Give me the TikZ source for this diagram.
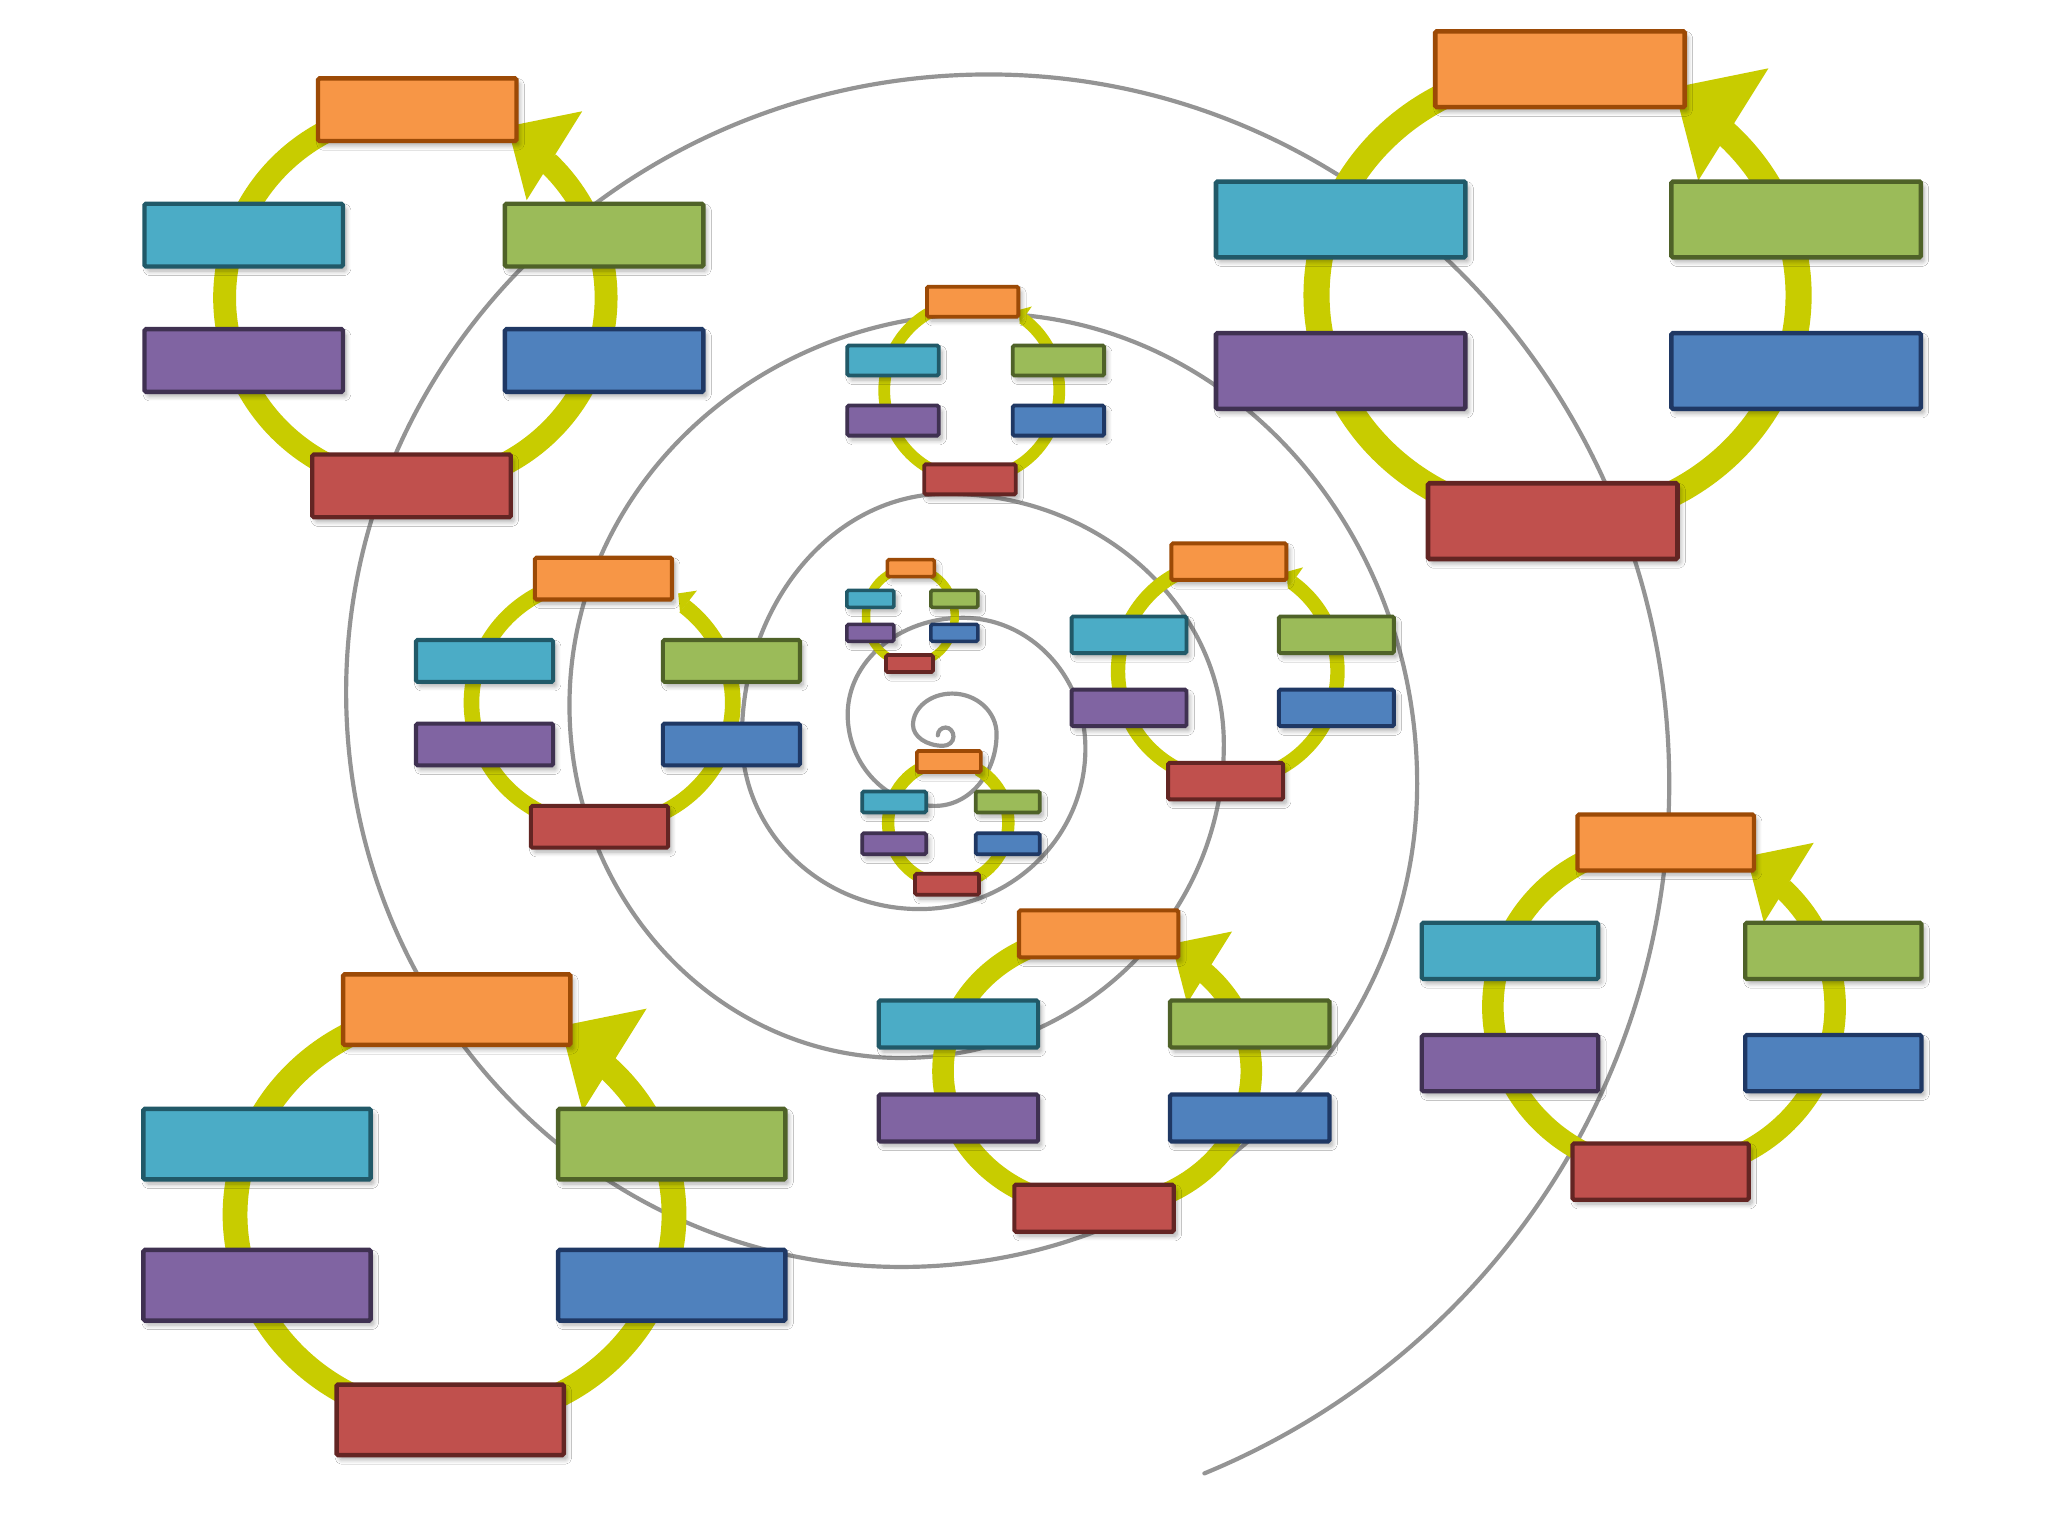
\documentclass[tikz,border=0pt]{standalone}
\usetikzlibrary{shadows.blur}
\definecolor{ringc}{RGB}{200,204,0}
\definecolor{spir}{RGB}{148,148,148}
\definecolor{orF}{HTML}{F79646}\definecolor{orD}{HTML}{9C4A06}
\definecolor{cyF}{HTML}{4BACC6}\definecolor{cyD}{HTML}{215968}
\definecolor{grF}{HTML}{9BBB59}\definecolor{grD}{HTML}{4F6228}
\definecolor{puF}{HTML}{8064A2}\definecolor{puD}{HTML}{3F3151}
\definecolor{blF}{HTML}{4F81BD}\definecolor{blD}{HTML}{1F3864}
\definecolor{reF}{HTML}{C0504D}\definecolor{reD}{HTML}{632523}
\tikzset{
  box/.style={rectangle, rounded corners=1.2pt, inner sep=0pt, line width=#1,
     blur shadow={shadow xshift=2.5pt, shadow yshift=-3.5pt, shadow blur radius=3.5pt, shadow blur steps=6, shadow opacity=32}},
  box/.default=3pt,
  ringline/.style={draw=ringc, line width=#1},
  spiralline/.style={draw=spir, line width=3.2pt, line cap=round},
}
% name, cx, cy, rx, ry, W, H, ring thickness ; arrow: \ab \ad \ar \aw \al
\newcommand{\cyc}[8]{%
 \begin{scope}[shift={(#2,#3)}]
  \draw[ringline=#8pt] (250:#4 and #5) arc[start angle=250, end angle=\ab, x radius=#4, y radius=#5];
  \ifdim\aw pt>0pt
   \pgfmathsetmacro\bx{\ar*#4*cos(\ab)}
   \pgfmathsetmacro\by{\ar*#5*sin(\ab)}
   \pgfmathsetmacro\ux{sin(\ad)}
   \pgfmathsetmacro\uy{-cos(\ad)}
   \pgfmathsetmacro\Lh{\al*#4}
   \pgfmathsetmacro\Wh{\aw*#4}
   \fill[ringc] ({\bx+\Lh*\ux},{\by+\Lh*\uy}) -- ({\bx-\Wh*\uy},{\by+\Wh*\ux}) -- ({\bx+\Wh*\uy},{\by-\Wh*\ux}) -- cycle;
  \fi
  \pgfmathsetmacro\bw{2.6+#4/200}
  \node[box=\bw pt, fill=orF, draw=orD, minimum width=#6pt, minimum height=#7pt] (#1o) at ({0.01*#4},{-#5}) {};
  \node[box=\bw pt, fill=cyF, draw=cyD, minimum width=#6pt, minimum height=#7pt] (#1c) at ({-0.9*#4},{-#7}) {};
  \node[box=\bw pt, fill=grF, draw=grD, minimum width=#6pt, minimum height=#7pt] (#1g) at ({0.99*#4},{-#7}) {};
  \node[box=\bw pt, fill=puF, draw=puD, minimum width=#6pt, minimum height=#7pt] (#1p) at ({-0.9*#4},{#7}) {};
  \node[box=\bw pt, fill=blF, draw=blD, minimum width=#6pt, minimum height=#7pt] (#1b) at ({0.99*#4},{#7}) {};
  \node[box=\bw pt, fill=reF, draw=reD, minimum width=#6pt, minimum height=#7pt] (#1r) at ({-0.02*#4},{#5}) {};
 \end{scope}}
\begin{document}
\begin{tikzpicture}[x=1pt,y=-1pt]
\fill[white] (0,0) rectangle (1568,1176);
\useasboundingbox (0,0) rectangle (1568,1176);
% spiral
\draw[spiralline] (718,563)
 arc[start angle=180,end angle=270,x radius=6,y radius=6]
 arc[start angle=270,end angle=360,x radius=6,y radius=7]
 arc[start angle=0,end angle=90,x radius=8,y radius=7]
 arc[start angle=90,end angle=180,x radius=23,y radius=16]
 arc[start angle=180,end angle=270,x radius=30,y radius=24]
 arc[start angle=270,end angle=360,x radius=34,y radius=31]
 arc[start angle=0,end angle=90,x radius=47,y radius=55]
 arc[start angle=90,end angle=180,x radius=67,y radius=70]
 arc[start angle=180,end angle=270,x radius=88,y radius=74]
 arc[start angle=270,end angle=360,x radius=94,y radius=100]
 arc[start angle=0,end angle=90,x radius=127,y radius=123]
 arc[start angle=90,end angle=180,x radius=136,y radius=131]
 arc[start angle=180,end angle=270,x radius=157,y radius=187]
 arc[start angle=270,end angle=360,x radius=212,y radius=192]
 arc[start angle=0,end angle=90,x radius=247,y radius=240]
 arc[start angle=90,end angle=180,x radius=254,y radius=270]
 arc[start angle=180,end angle=270,x radius=319,y radius=300]
 arc[start angle=270,end angle=360,x radius=330,y radius=360]
 arc[start angle=0,end angle=90,x radius=395,y radius=370]
 arc[start angle=90,end angle=180,x radius=425,y radius=440]
 arc[start angle=180,end angle=270,x radius=492,y radius=473]
 arc[start angle=270,end angle=360,x radius=521,y radius=543]
 arc[start angle=0,end angle=67.4,x radius=578,y radius=572];
% big cycles
\def\ab{-46}\def\ad{-58}\def\ar{1.05}\def\aw{0.275}\def\al{0.29}
\cyc{A}{318}{228}{146}{144}{152}{48}{17.5}
\cyc{B}{1192.5}{226}{184.5}{173}{191}{58}{20}
\cyc{C}{348}{930}{168}{157}{174}{54}{19}
\cyc{D}{1274}{771}{131}{126}{135}{43}{16.5}
\cyc{E}{840}{820}{118}{105}{122}{36}{16.5}
% smaller cycles
\def\ab{-51}\def\ad{-52}\def\ar{1.05}\def\aw{0.105}\def\al{0.10}
\cyc{F}{461}{538}{100}{95}{105}{32}{12}
\def\ab{-54}\def\ad{-55}\def\ar{1.05}\def\aw{0.12}\def\al{0.1}
\cyc{G}{744}{299}{67}{68}{70}{23}{9}
\cyc{H}{940}{514}{84}{84}{88}{28}{11}
\def\ab{-60}\def\aw{0}
\cyc{I}{697}{471.5}{34}{36.5}{36}{13}{6.5}
\cyc{J}{726}{630}{46}{47}{49}{16}{9.5}
\end{tikzpicture}
\end{document}
